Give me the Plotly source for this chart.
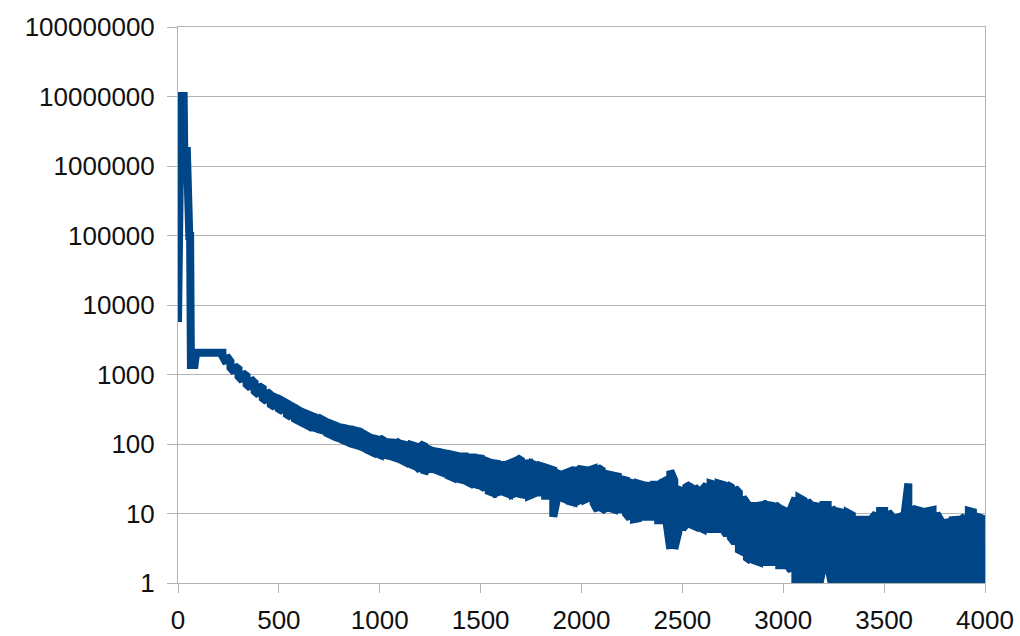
import plotly.graph_objects as go

# ---- data ----
# initial spike region (x, value)
head_x = [0, 3, 14, 28, 31, 44, 46, 54, 56, 60, 62, 64, 82, 90, 200]
head_y = [5700, 31000, 1.02e7, 1.02e7, 1.64e6, 1.64e6, 2.5e5, 2.5e5,
          9.8e4, 9.8e4, 5900, 1370, 1370, 2050, 2050]

# noisy decay region: per-bin maximum and minimum values
band_x = list(range(220, 4001, 20))
band_top = [
    2050, 1850, 1550, 1330, 1200, 1050, 950, 860, 760, 690,
    630, 570, 510, 470, 440, 415, 385, 355, 330, 305,
    285, 270, 255, 242, 230, 220, 205, 195, 185, 175,
    170, 165, 160, 156, 150, 140, 130, 122, 118, 122,
    112, 106, 105, 110, 100, 98, 95, 96, 92, 90,
    102, 85, 80, 78, 76, 74, 72, 70, 68, 66,
    66, 64, 64, 63, 62, 58, 55, 53, 52, 50,
    50, 52, 55, 63, 58, 52, 53, 51, 48, 48,
    46, 44, 42, 38, 36, 38, 40, 41, 42, 43,
    42, 42, 44, 46, 42, 37, 36, 35, 34, 31,
    30, 28, 27, 27, 26, 25, 25, 26, 26, 28,
    30, 41, 30, 22, 21, 24, 26, 24, 21, 22,
    26, 27, 26, 27, 26, 24, 26, 23, 20, 17,
    14, 12.8, 12.8, 13, 13.3, 13.3, 13, 13.3, 12, 11.2,
    10.5, 12, 16.7, 16.7, 15.5, 15, 13, 12.8, 12.5, 13.3,
    13.3, 12, 10.2, 10.5, 10.2, 10.2, 9.5, 8.1, 8.1, 8.1,
    8.1, 8.5, 10, 10.9, 10.9, 10.5, 9, 8.6, 9, 9,
    27, 12, 11, 10.9, 10.5, 10.9, 11.2, 10, 8, 7.3,
    7.5, 8, 8.1, 8.1, 9, 10.9, 10.5, 9, 8.6, 4,
]
band_bottom = [
    1850, 1450, 1250, 1080, 940, 810, 720, 640, 570, 510,
    455, 410, 370, 340, 320, 295, 265, 245, 228, 213,
    200, 186, 176, 170, 162, 156, 143, 134, 126, 120,
    113, 107, 101, 97, 93, 88, 82, 77, 74, 70,
    70, 68, 66, 63, 60, 56, 53, 50, 48, 42,
    38, 46, 44, 42, 40, 38, 35, 33, 32, 31,
    30, 28, 27, 26, 25, 23, 21, 20, 20, 21,
    20, 19, 19, 20, 19, 18.5, 18, 19, 20, 20,
    18, 18, 9, 17, 17, 16, 15, 14.5, 15, 16,
    16, 17, 14, 11, 11, 12, 12, 11.5, 11.5, 11.5,
    10, 8.5, 8.3, 8.5, 9, 9, 9, 9, 8, 8,
    8, 3.1, 3.1, 5.4, 6, 7, 7, 6.6, 6.4, 6,
    6, 6, 6, 6, 6, 4.9, 4.5, 3.8, 3, 2.8,
    2.3, 2.1, 2.1, 2, 2, 2, 2, 2, 1.8, 1.8,
    1.8, 1.5, 1, 1, 1, 1, 1, 1, 1, 1.9,
    1.9, 1, 1, 1, 1, 1, 1, 1, 1, 1,
    1, 1, 1, 1, 1, 1, 1, 1, 1, 1,
    1, 1, 1, 1, 1, 1, 1, 1, 1, 1,
    1, 1, 1, 1, 1, 1, 1, 1, 1, 2.5,
]

x_ticks = [0, 500, 1000, 1500, 2000, 2500, 3000, 3500, 4000]
y_ticks = [1, 10, 100, 1000, 10000, 100000, 1000000, 10000000, 100000000]
y_labels = [str(v) for v in y_ticks]

# ---- build the polyline: head, then each bin drawn min<->max ----
xs = list(head_x)
ys = list(head_y)
for i, bx in enumerate(band_x):
    hi, lo = band_top[i], band_bottom[i]
    pair = (hi, lo) if i % 2 == 0 else (lo, hi)
    xs += [bx, bx]
    ys += list(pair)

fig = go.Figure()
fig.add_trace(go.Scatter(
    x=xs, y=ys, mode="lines",
    line=dict(color="#004586", width=8),
    showlegend=False, hoverinfo="skip",
))

font = dict(family="Liberation Sans, Arial, sans-serif", size=26, color="#111111")
grid = "#b3b3b3"

fig.update_layout(
    width=1020, height=636,
    margin=dict(l=178, r=35, t=27, b=53, autoexpand=False),
    paper_bgcolor="white", plot_bgcolor="white",
    font=font,
)
fig.update_xaxes(
    range=[0, 4000], tickvals=x_ticks, ticktext=[str(v) for v in x_ticks],
    showgrid=False, zeroline=False, automargin=False,
    showline=True, linecolor=grid, linewidth=1, mirror=True,
    ticks="outside", ticklen=9, tickcolor=grid, tickwidth=1,
    ticklabelstandoff=5, tickfont=font,
)
fig.update_yaxes(
    type="log", range=[0, 8], tickvals=y_ticks, ticktext=y_labels,
    showgrid=True, gridcolor=grid, gridwidth=1, zeroline=False, automargin=False,
    showline=True, linecolor=grid, linewidth=1, mirror=True,
    ticks="outside", ticklen=10, tickcolor=grid, tickwidth=1,
    ticklabelstandoff=7, tickfont=font,
)

fig.write_html(
    "out.html",
    config={"displayModeBar": False},
    post_script="document.body.style.margin='0';document.body.style.overflow='hidden';",
)
